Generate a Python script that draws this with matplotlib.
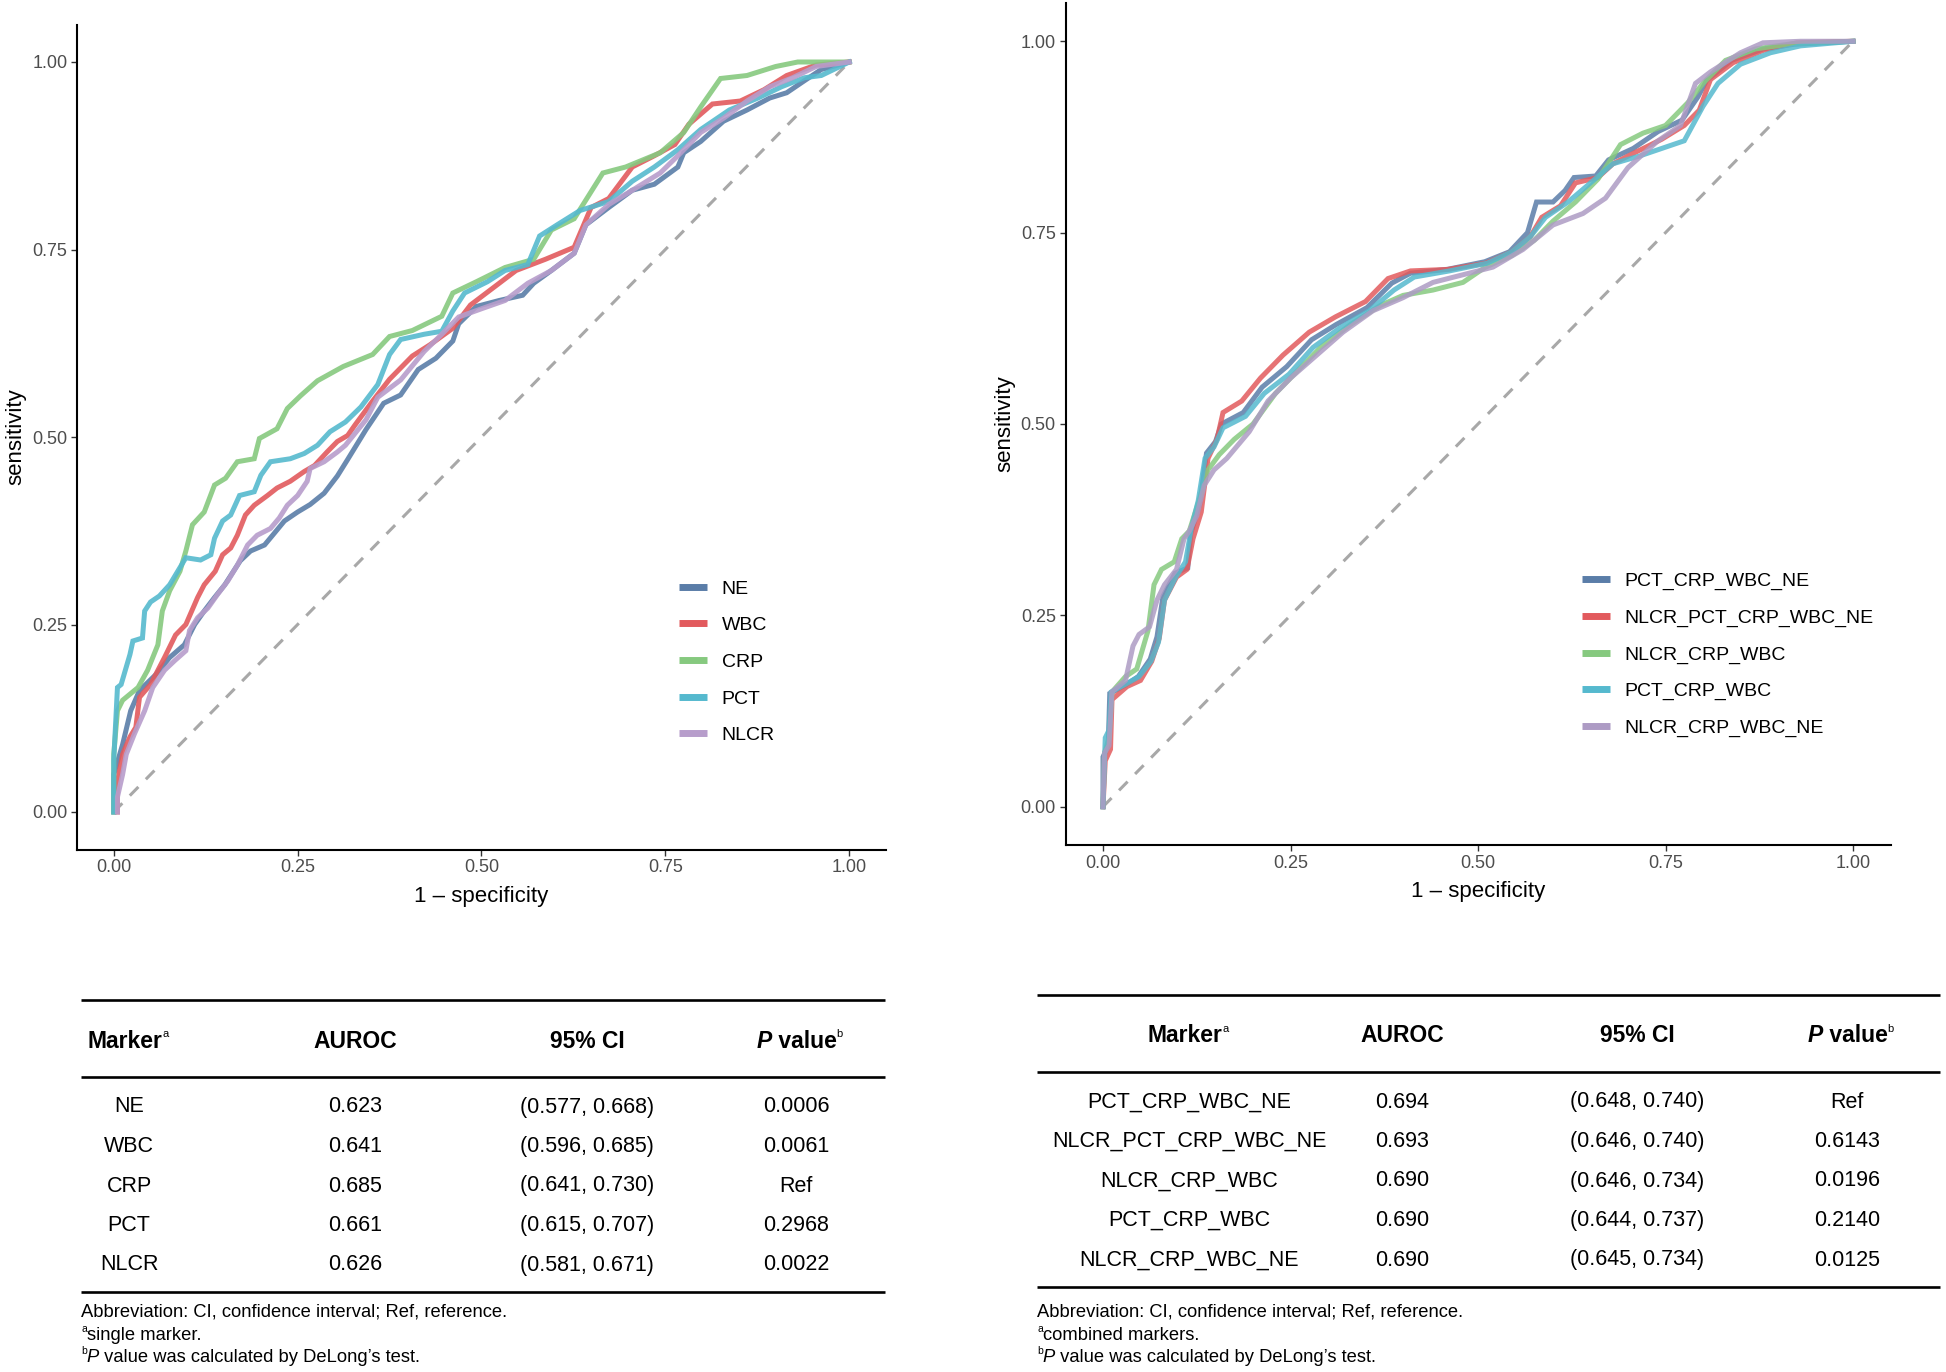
import matplotlib
matplotlib.use("Agg")
import matplotlib.pyplot as plt
from matplotlib import font_manager
from matplotlib.lines import Line2D

installed = {f.name for f in font_manager.fontManager.ttflist}
PLOT_FONT = "Liberation Sans" if "Liberation Sans" in installed else "DejaVu Sans"
TABLE_FONT = "Liberation Sans Narrow" if "Liberation Sans Narrow" in installed else PLOT_FONT
plt.rcParams["font.family"] = [PLOT_FONT, "DejaVu Sans"]

# ---------------- data: single markers (left panel) ----------------
single_names = ["NE", "WBC", "CRP", "PCT", "NLCR"]
single_colors = ["#5A7DA8", "#E25A5D", "#86C97F", "#55B9CE", "#B79DCB"]

ne_x = [0, 0.000, 0.012, 0.023, 0.035, 0.057, 0.076, 0.096, 0.110, 0.123,
        0.137, 0.151, 0.172, 0.186, 0.205, 0.216, 0.232, 0.250, 0.267, 0.286,
        0.304, 0.318, 0.343, 0.367, 0.390, 0.414, 0.438, 0.461, 0.469, 0.493,
        0.524, 0.556, 0.571, 0.595, 0.626, 0.642, 0.673, 0.705, 0.735, 0.767,
        0.775, 0.798, 0.829, 0.861, 0.892, 0.915, 0.939, 0.962, 1.000]
ne_y = [0, 0.050, 0.090, 0.135, 0.162, 0.183, 0.206, 0.223, 0.250, 0.268,
        0.286, 0.303, 0.335, 0.348, 0.356, 0.369, 0.388, 0.400, 0.410, 0.425,
        0.448, 0.470, 0.510, 0.545, 0.556, 0.590, 0.605, 0.628, 0.651, 0.674,
        0.682, 0.689, 0.705, 0.722, 0.745, 0.783, 0.806, 0.829, 0.837, 0.860,
        0.879, 0.894, 0.921, 0.936, 0.952, 0.959, 0.975, 0.990, 1.000]

wbc_x = [0.005, 0.005, 0.012, 0.022, 0.030, 0.035, 0.050, 0.069, 0.084, 0.098,
         0.114, 0.123, 0.138, 0.148, 0.159, 0.168, 0.179, 0.191, 0.209, 0.222,
         0.240, 0.259, 0.273, 0.290, 0.304, 0.318, 0.328, 0.352, 0.375, 0.406,
         0.430, 0.461, 0.485, 0.516, 0.547, 0.587, 0.626, 0.649, 0.673, 0.705,
         0.735, 0.763, 0.782, 0.814, 0.852, 0.884, 0.915, 0.955, 1.000]
wbc_y = [0.000, 0.040, 0.077, 0.100, 0.113, 0.153, 0.170, 0.206, 0.236, 0.250,
         0.286, 0.303, 0.321, 0.343, 0.352, 0.369, 0.396, 0.409, 0.422, 0.432,
         0.441, 0.454, 0.462, 0.480, 0.494, 0.502, 0.516, 0.548, 0.577, 0.608,
         0.623, 0.645, 0.676, 0.699, 0.722, 0.737, 0.753, 0.806, 0.818, 0.860,
         0.875, 0.890, 0.917, 0.944, 0.948, 0.963, 0.982, 0.996, 1.000]

crp_x = [0, 0.000, 0.005, 0.012, 0.033, 0.046, 0.060, 0.066, 0.076, 0.090,
         0.098, 0.107, 0.123, 0.137, 0.152, 0.168, 0.191, 0.198, 0.222, 0.236,
         0.254, 0.277, 0.312, 0.352, 0.375, 0.406, 0.446, 0.461, 0.493, 0.532,
         0.571, 0.595, 0.626, 0.665, 0.696, 0.743, 0.775, 0.798, 0.825, 0.861,
         0.900, 0.930, 1.000]
crp_y = [0, 0.077, 0.135, 0.149, 0.166, 0.189, 0.223, 0.268, 0.295, 0.321,
         0.348, 0.383, 0.400, 0.436, 0.445, 0.467, 0.471, 0.498, 0.511, 0.538,
         0.555, 0.575, 0.594, 0.610, 0.634, 0.642, 0.661, 0.692, 0.707, 0.726,
         0.737, 0.776, 0.791, 0.852, 0.860, 0.879, 0.906, 0.940, 0.978, 0.982,
         0.994, 1.000, 1.000]

pct_x = [0, 0.000, 0.005, 0.010, 0.022, 0.026, 0.039, 0.042, 0.050, 0.062,
         0.076, 0.087, 0.098, 0.118, 0.132, 0.137, 0.148, 0.159, 0.171, 0.191,
         0.200, 0.213, 0.240, 0.259, 0.277, 0.294, 0.315, 0.336, 0.359, 0.375,
         0.390, 0.422, 0.446, 0.461, 0.477, 0.508, 0.532, 0.563, 0.579, 0.603,
         0.634, 0.673, 0.705, 0.735, 0.767, 0.798, 0.837, 0.876, 0.908, 0.939,
         0.962, 1.000]
pct_y = [0, 0.070, 0.166, 0.170, 0.210, 0.228, 0.232, 0.268, 0.280, 0.288,
         0.303, 0.321, 0.339, 0.336, 0.343, 0.365, 0.388, 0.396, 0.422, 0.427,
         0.449, 0.467, 0.471, 0.478, 0.489, 0.507, 0.520, 0.540, 0.570, 0.610,
         0.630, 0.637, 0.641, 0.668, 0.692, 0.707, 0.722, 0.730, 0.768, 0.783,
         0.802, 0.814, 0.841, 0.860, 0.883, 0.910, 0.936, 0.952, 0.967, 0.979,
         0.982, 1.000]

nlcr_x = [0.005, 0.005, 0.012, 0.017, 0.028, 0.042, 0.053, 0.069, 0.083, 0.098,
          0.103, 0.114, 0.128, 0.141, 0.155, 0.168, 0.182, 0.195, 0.213, 0.225,
          0.236, 0.250, 0.263, 0.267, 0.286, 0.304, 0.315, 0.343, 0.359, 0.390,
          0.422, 0.446, 0.469, 0.500, 0.532, 0.563, 0.595, 0.626, 0.642, 0.673,
          0.705, 0.743, 0.767, 0.798, 0.829, 0.861, 0.892, 0.923, 0.955, 1.000]
nlcr_y = [0.000, 0.020, 0.050, 0.077, 0.104, 0.135, 0.166, 0.189, 0.202, 0.215,
          0.242, 0.259, 0.272, 0.290, 0.308, 0.329, 0.356, 0.369, 0.378, 0.392,
          0.409, 0.422, 0.441, 0.458, 0.467, 0.480, 0.489, 0.523, 0.553, 0.576,
          0.614, 0.637, 0.660, 0.671, 0.682, 0.705, 0.722, 0.745, 0.783, 0.810,
          0.829, 0.852, 0.875, 0.906, 0.925, 0.948, 0.967, 0.979, 0.994, 1.000]

# ---------------- data: combined markers (right panel) ----------------
combo_names = ["PCT_CRP_WBC_NE", "NLCR_PCT_CRP_WBC_NE", "NLCR_CRP_WBC",
               "PCT_CRP_WBC", "NLCR_CRP_WBC_NE"]
combo_colors = ["#5A7DA8", "#E25A5D", "#86C97F", "#55B9CE", "#AD9BC4"]

c1_x = [0, 0.000, 0.007, 0.009, 0.030, 0.047, 0.063, 0.072, 0.080, 0.096,
        0.113, 0.117, 0.129, 0.138, 0.150, 0.158, 0.187, 0.212, 0.245, 0.278,
        0.311, 0.352, 0.385, 0.410, 0.459, 0.509, 0.542, 0.566, 0.578, 0.600,
        0.616, 0.628, 0.657, 0.674, 0.707, 0.740, 0.772, 0.793, 0.805, 0.838,
        0.880, 0.921, 1.000]
c1_y = [0, 0.065, 0.080, 0.148, 0.159, 0.170, 0.193, 0.222, 0.275, 0.305,
        0.312, 0.357, 0.395, 0.462, 0.477, 0.500, 0.515, 0.548, 0.575, 0.610,
        0.630, 0.652, 0.684, 0.697, 0.702, 0.712, 0.725, 0.750, 0.790, 0.790,
        0.805, 0.822, 0.824, 0.845, 0.860, 0.882, 0.897, 0.927, 0.949, 0.975,
        0.990, 0.996, 1.000]

c2_x = [0, 0.003, 0.010, 0.012, 0.032, 0.050, 0.065, 0.075, 0.082, 0.098,
        0.112, 0.120, 0.131, 0.140, 0.152, 0.160, 0.185, 0.210, 0.240, 0.275,
        0.310, 0.350, 0.380, 0.410, 0.460, 0.510, 0.545, 0.570, 0.585, 0.610,
        0.630, 0.660, 0.680, 0.710, 0.745, 0.775, 0.795, 0.810, 0.840, 0.880,
        0.925, 1.000]
c2_y = [0, 0.060, 0.075, 0.140, 0.157, 0.165, 0.190, 0.220, 0.270, 0.300,
        0.310, 0.350, 0.385, 0.455, 0.480, 0.515, 0.530, 0.560, 0.590, 0.620,
        0.640, 0.660, 0.690, 0.700, 0.702, 0.710, 0.725, 0.745, 0.770, 0.785,
        0.815, 0.822, 0.840, 0.855, 0.872, 0.890, 0.910, 0.950, 0.972, 0.988,
        0.998, 1.000]

c3_x = [0, 0.002, 0.008, 0.012, 0.030, 0.045, 0.060, 0.068, 0.078, 0.095,
        0.105, 0.115, 0.128, 0.140, 0.155, 0.175, 0.200, 0.230, 0.260, 0.290,
        0.330, 0.370, 0.400, 0.440, 0.480, 0.510, 0.545, 0.575, 0.600, 0.630,
        0.660, 0.690, 0.720, 0.750, 0.780, 0.800, 0.830, 0.870, 0.920, 1.000]
c3_y = [0, 0.070, 0.090, 0.150, 0.170, 0.180, 0.230, 0.290, 0.310, 0.320,
        0.350, 0.360, 0.400, 0.440, 0.460, 0.480, 0.500, 0.540, 0.570, 0.600,
        0.630, 0.655, 0.668, 0.675, 0.685, 0.705, 0.720, 0.740, 0.765, 0.790,
        0.820, 0.865, 0.880, 0.890, 0.920, 0.945, 0.975, 0.990, 0.997, 1.000]

c4_x = [0, 0.003, 0.008, 0.011, 0.030, 0.048, 0.064, 0.074, 0.082, 0.097,
        0.110, 0.118, 0.127, 0.136, 0.148, 0.160, 0.190, 0.215, 0.248, 0.280,
        0.315, 0.355, 0.388, 0.415, 0.462, 0.512, 0.545, 0.570, 0.590, 0.620,
        0.650, 0.680, 0.715, 0.745, 0.775, 0.800, 0.820, 0.850, 0.890, 0.930,
        1.000]
c4_y = [0, 0.090, 0.100, 0.150, 0.160, 0.170, 0.190, 0.215, 0.270, 0.300,
        0.320, 0.365, 0.400, 0.455, 0.470, 0.495, 0.510, 0.540, 0.565, 0.600,
        0.625, 0.648, 0.675, 0.692, 0.700, 0.710, 0.725, 0.745, 0.770, 0.790,
        0.815, 0.840, 0.850, 0.860, 0.870, 0.915, 0.945, 0.970, 0.985, 0.994,
        1.000]

c5_x = [0, 0.002, 0.008, 0.012, 0.030, 0.040, 0.048, 0.062, 0.072, 0.082,
        0.098, 0.108, 0.115, 0.125, 0.135, 0.148, 0.165, 0.195, 0.220, 0.250,
        0.285, 0.320, 0.360, 0.400, 0.440, 0.480, 0.520, 0.560, 0.600, 0.640,
        0.670, 0.700, 0.740, 0.770, 0.790, 0.810, 0.850, 0.880, 0.930, 1.000]
c5_y = [0, 0.070, 0.080, 0.150, 0.165, 0.210, 0.225, 0.235, 0.270, 0.290,
        0.310, 0.350, 0.360, 0.380, 0.420, 0.440, 0.455, 0.490, 0.530, 0.560,
        0.590, 0.620, 0.648, 0.665, 0.685, 0.695, 0.705, 0.728, 0.760, 0.775,
        0.795, 0.835, 0.870, 0.890, 0.945, 0.960, 0.985, 0.998, 1.000, 1.000]

# ---------------- table data ----------------
single_auroc = ["0.623", "0.641", "0.685", "0.661", "0.626"]
single_ci = ["(0.577, 0.668)", "(0.596, 0.685)", "(0.641, 0.730)",
             "(0.615, 0.707)", "(0.581, 0.671)"]
single_p = ["0.0006", "0.0061", "Ref", "0.2968", "0.0022"]

combo_auroc = ["0.694", "0.693", "0.690", "0.690", "0.690"]
combo_ci = ["(0.648, 0.740)", "(0.646, 0.740)", "(0.646, 0.734)",
            "(0.644, 0.737)", "(0.645, 0.734)"]
combo_p = ["Ref", "0.6143", "0.0196", "0.2140", "0.0125"]

note_abbrev = "Abbreviation: CI, confidence interval; Ref, reference."
note_single = "single marker."
note_combo = "combined markers."
note_delong = " value was calculated by DeLong\u2019s test."

W, H = 1946, 1372
fig = plt.figure(figsize=(W / 100, H / 100), dpi=100)


def px_axes(left, top, right, bottom):
    return fig.add_axes([left / W, 1 - bottom / H, (right - left) / W, (bottom - top) / H])


def style_roc(ax, pad_y):
    ax.set_xlim(-0.05, 1.05)
    ax.set_ylim(-0.05, 1.05)
    ticks = [0, 0.25, 0.5, 0.75, 1.0]
    ax.set_xticks(ticks, ["0.00", "0.25", "0.50", "0.75", "1.00"])
    ax.set_yticks(ticks, ["0.00", "0.25", "0.50", "0.75", "1.00"])
    for s in ["top", "right"]:
        ax.spines[s].set_visible(False)
    for s in ["left", "bottom"]:
        ax.spines[s].set_linewidth(1.5)
        ax.spines[s].set_color("black")
    ax.tick_params(direction="out", length=4, width=1.0, color="#333333",
                   labelcolor="#4D4D4D", labelsize=13, pad=3)
    ax.set_xlabel("1 \u2013 specificity", fontsize=16, color="black", labelpad=7)
    ax.set_ylabel("sensitivity", fontsize=16, color="black", labelpad=pad_y)
    ax.plot([0, 1], [0, 1], color="#A8A8A8", lw=2.2, dashes=(4, 3.5), zorder=1)


def add_legend(ax, names, colors, left, top):
    handles = [Line2D([], [], color=c, lw=5, solid_capstyle="butt") for c in colors]
    ax.legend(handles, names, loc="upper left",
              bbox_to_anchor=(left / W, 1 - top / H), bbox_transform=fig.transFigure,
              frameon=False, fontsize=14, handlelength=1.45, handletextpad=0.75,
              labelspacing=0.98, borderpad=0, borderaxespad=0)


# left ROC panel
axL = px_axes(77, 24.5, 886, 849.5)
style_roc(axL, 4)
for xs, ys, c in zip([ne_x, wbc_x, crp_x, pct_x, nlcr_x],
                     [ne_y, wbc_y, crp_y, pct_y, nlcr_y], single_colors):
    axL.plot(xs, ys, color=c, lw=3.6, alpha=0.9, solid_joinstyle="miter", zorder=2)
add_legend(axL, single_names, single_colors, 679, 580)

# right ROC panel
axR = px_axes(1065.5, 3, 1890.5, 845)
style_roc(axR, 4)
for xs, ys, c in zip([c1_x, c2_x, c3_x, c4_x, c5_x],
                     [c1_y, c2_y, c3_y, c4_y, c5_y], combo_colors):
    axR.plot(xs, ys, color=c, lw=3.6, alpha=0.85, solid_joinstyle="miter", zorder=2)
add_legend(axR, combo_names, combo_colors, 1582, 572)

# overlay for the two tables (pixel coordinates)
ov = fig.add_axes([0, 0, 1, 1])
ov.set_xlim(0, W)
ov.set_ylim(H, 0)
ov.axis("off")

TS = 15.5
HS = 16.5
NS = 13.2


def sup_after(t, s, size=8):
    return ov.annotate(s, xy=(1, 0.6), xycoords=t, va="bottom", ha="left",
                       fontsize=size, family=TABLE_FONT)


def draw_table(x0, x1, y_top, y_head, y_rule, row0, row_step, y_bot, cols,
               names, auroc, ci, pvals, note_a):
    for yy in (y_top, y_rule, y_bot):
        ov.plot([x0, x1], [yy, yy], color="black", lw=1.9, solid_capstyle="butt")
    t = ov.text(cols[0] - 4, y_head, "Marker", ha="center", va="center",
                fontsize=HS, fontweight="bold", family=TABLE_FONT)
    sup_after(t, "a")
    ov.text(cols[1], y_head, "AUROC", ha="center", va="center",
            fontsize=HS, fontweight="bold", family=TABLE_FONT)
    ov.text(cols[2], y_head, "95% CI", ha="center", va="center",
            fontsize=HS, fontweight="bold", family=TABLE_FONT)
    tv = ov.text(cols[3] + 8, y_head, " value", ha="center", va="center",
                 fontsize=HS, fontweight="bold", family=TABLE_FONT)
    ov.annotate("P", xy=(0, 0), xycoords=tv, ha="right", va="bottom",
                fontsize=HS, fontweight="bold", fontstyle="italic", family=TABLE_FONT)
    sup_after(tv, "b")
    for i in range(len(names)):
        yy = row0 + i * row_step
        for cx, s in zip(cols, [names[i], auroc[i], ci[i], pvals[i]]):
            ov.text(cx, yy, s, ha="center", va="center", fontsize=TS, family=TABLE_FONT)
    ov.text(x0, 1312, note_abbrev, ha="left", va="center", fontsize=NS, family=TABLE_FONT)
    ta = ov.text(x0, 1334, "a", ha="left", va="bottom", fontsize=7.5, family=TABLE_FONT)
    ov.annotate(note_a, xy=(1, 0), xycoords=ta, xytext=(0, -7), textcoords="offset points",
                ha="left", va="bottom", fontsize=NS, family=TABLE_FONT)
    tb = ov.text(x0, 1356, "b", ha="left", va="bottom", fontsize=7.5, family=TABLE_FONT)
    tp = ov.annotate("P", xy=(1, 0), xycoords=tb, xytext=(0, -7), textcoords="offset points",
                     ha="left", va="bottom", fontsize=NS, fontstyle="italic", family=TABLE_FONT)
    ov.annotate(note_delong, xy=(1, 0), xycoords=tp, ha="left", va="bottom",
                fontsize=NS, family=TABLE_FONT)


draw_table(81, 885, 1000, 1041, 1077, 1107, 39.5, 1292, [129, 355, 587, 796],
           single_names, single_auroc, single_ci, single_p, note_single)
draw_table(1037, 1940, 995, 1036, 1072, 1102, 39.5, 1287, [1189, 1402, 1637, 1847],
           combo_names, combo_auroc, combo_ci, combo_p, note_combo)

fig.savefig("out.png", dpi=100, facecolor="white")
